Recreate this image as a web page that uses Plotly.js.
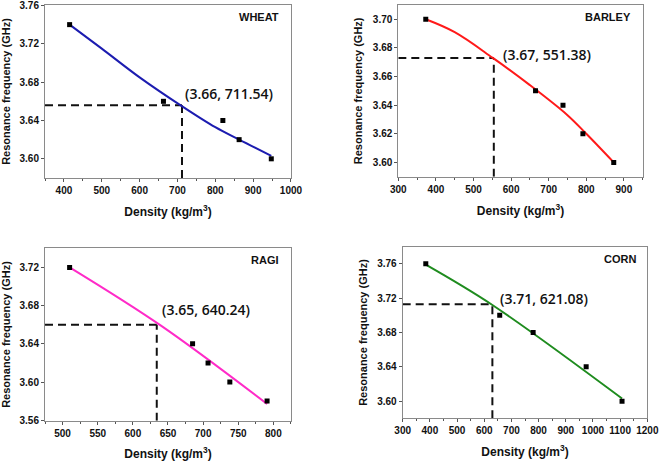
<!DOCTYPE html>
<html>
<head>
<meta charset="utf-8">
<script src="https://cdn.plot.ly/plotly-3.0.1.min.js"></script>
<style>
  html, body { margin: 0; padding: 0; background: #fff; }
  #graph { width: 661px; height: 461px; }
</style>
</head>
<body>
<div id="graph"></div>
<script>
// measured points (density kg/m3, resonance frequency GHz)
const wheatX = [415, 663, 820, 863, 948];
const wheatY = [3.74, 3.66, 3.64, 3.62, 3.60];
const barleyX = [373, 665, 738, 791, 873];
const barleyY = [3.70, 3.65, 3.64, 3.62, 3.60];
const ragiX = [510, 685, 707, 738, 791];
const ragiY = [3.72, 3.64, 3.62, 3.60, 3.58];
const cornX = [385, 657, 780, 975, 1107];
const cornY = [3.76, 3.70, 3.68, 3.64, 3.60];

// fitted curves
const wheatFitX = [415, 500, 600, 711.5, 800, 863, 948];
const wheatFitY = [3.740, 3.715, 3.685, 3.655, 3.633, 3.620, 3.603];
const barleyFitX = [373, 450, 551.4, 650, 750, 800, 873];
const barleyFitY = [3.700, 3.691, 3.673, 3.654, 3.633, 3.620, 3.600];
const ragiFitX = [510, 640, 791];
const ragiFitY = [3.720, 3.659, 3.577];
const cornFitX = [385, 630, 1107];
const cornFitY = [3.759, 3.712, 3.603];

// guide lines (x of vertical, y of horizontal)
const guideX = [712, 554, 634, 630];
const guideY = [3.656, 3.673, 3.660, 3.713];
const guideLabels = ['(3.66, 711.54)', '(3.67, 551.38)', '(3.65, 640.24)', '(3.71, 621.08)'];
const grainNames = ['WHEAT', 'BARLEY', 'RAGI', 'CORN'];

// y tick labels for each panel
const wheatTicks = [3.60, 3.64, 3.68, 3.72, 3.76];
const barleyTicks = [3.60, 3.62, 3.64, 3.66, 3.68, 3.70];
const ragiTicks = [3.56, 3.60, 3.64, 3.68, 3.72];
const cornTicks = [3.60, 3.64, 3.68, 3.72, 3.76];
const yTicks = [wheatTicks, barleyTicks, ragiTicks, cornTicks];

const xRanges = [[350, 1000], [300, 950], [475, 825], [300, 1200]];
const yRanges = [[3.58, 3.7605], [3.59, 3.71], [3.5595, 3.74], [3.58, 3.78]];
const xDticks = [100, 100, 50, 100];
const labelPos = [[714, 3.668], [572, 3.6755], [639, 3.6757], [652, 3.720]];

const colors = ['#1c1cb0', '#ff1a1a', '#ff2bc8', '#1f8c1f'];
const pts = [[wheatX, wheatY], [barleyX, barleyY], [ragiX, ragiY], [cornX, cornY]];
const fits = [[wheatFitX, wheatFitY], [barleyFitX, barleyFitY], [ragiFitX, ragiFitY], [cornFitX, cornFitY]];

const xDomains = [[0.0681, 0.4402], [0.6026, 0.9723], [0.0681, 0.4402], [0.6092, 0.9793]];
const yDomains = [[0.6139, 0.9892], [0.6167, 0.9892], [0.0874, 0.4614], [0.0926, 0.4649]];

const data = [];
const annotations = [];
const layout = {
  width: 661, height: 461,
  margin: { l: 0, r: 0, t: 0, b: 0 },
  paper_bgcolor: '#fff', plot_bgcolor: '#fff',
  showlegend: false,
  font: { family: 'Liberation Sans, Arial, sans-serif', color: '#111' },
};

for (let i = 0; i < 4; i++) {
  const n = i === 0 ? '' : String(i + 1);
  const xa = 'x' + n, ya = 'y' + n;
  const dashStyle = { color: '#111', width: 2, dash: '8px,5px' };

  // horizontal + vertical guide lines
  data.push({
    x: [xRanges[i][0], guideX[i]], y: [guideY[i], guideY[i]],
    mode: 'lines', line: dashStyle, xaxis: xa, yaxis: ya, hoverinfo: 'skip'
  });
  data.push({
    x: [guideX[i], guideX[i]], y: [yRanges[i][0], guideY[i]],
    mode: 'lines', line: dashStyle, xaxis: xa, yaxis: ya, hoverinfo: 'skip'
  });
  // fit line
  data.push({
    x: fits[i][0], y: fits[i][1], mode: 'lines',
    line: { color: colors[i], width: 2, shape: 'spline' },
    xaxis: xa, yaxis: ya
  });
  // measured points
  data.push({
    x: pts[i][0], y: pts[i][1], mode: 'markers',
    marker: { symbol: 'square', size: 5, color: '#000' },
    xaxis: xa, yaxis: ya
  });

  const axisCommon = {
    showline: true, mirror: true, linecolor: '#8a8a8a', linewidth: 1,
    ticks: 'outside', ticklen: 3, tickcolor: '#555',
    showgrid: false, zeroline: false, ticklabeloverflow: 'allow',
    tickfont: { size: 10, family: 'Liberation Sans, Arial, sans-serif', weight: 'bold', color: '#111' },
  };
  layout['xaxis' + n] = Object.assign({}, axisCommon, {
    domain: xDomains[i], range: xRanges[i], anchor: ya,
    dtick: xDticks[i], tick0: 0,
    minor: { ticks: 'outside', ticklen: 2, tickcolor: '#555', dtick: xDticks[i] / 2 },
    title: { text: 'Density (kg/m<sup>3</sup>)', standoff: 12,
      font: { size: 12, weight: 'bold', family: 'Liberation Sans, Arial, sans-serif', color: '#111' } },
  });
  layout['yaxis' + n] = Object.assign({}, axisCommon, {
    domain: yDomains[i], range: yRanges[i], anchor: xa,
    tickmode: 'array', tickvals: yTicks[i], ticktext: yTicks[i].map(v => v.toFixed(2)),
    title: { text: 'Resonance frequency (GHz)', standoff: 7,
      font: { size: 11, weight: 'bold', family: 'Liberation Sans, Arial, sans-serif', color: '#111' } },
  });

  annotations.push({
    xref: xa, yref: ya, x: labelPos[i][0], y: labelPos[i][1],
    xanchor: 'left', yanchor: 'middle', showarrow: false,
    text: guideLabels[i],
    font: { size: 14, family: 'Open Sans, sans-serif', weight: 600, color: '#111' }
  });
  annotations.push({
    xref: xa + ' domain', yref: ya + ' domain', x: 0.96, y: 0.93,
    xanchor: 'right', yanchor: 'middle', showarrow: false,
    text: '<b>' + grainNames[i] + '</b>',
    font: { size: 11, family: 'Liberation Sans, Arial, sans-serif', color: '#111' }
  });
}
layout.annotations = annotations;

Plotly.newPlot('graph', data, layout, { displayModeBar: false, staticPlot: true });
</script>
</body>
</html>
